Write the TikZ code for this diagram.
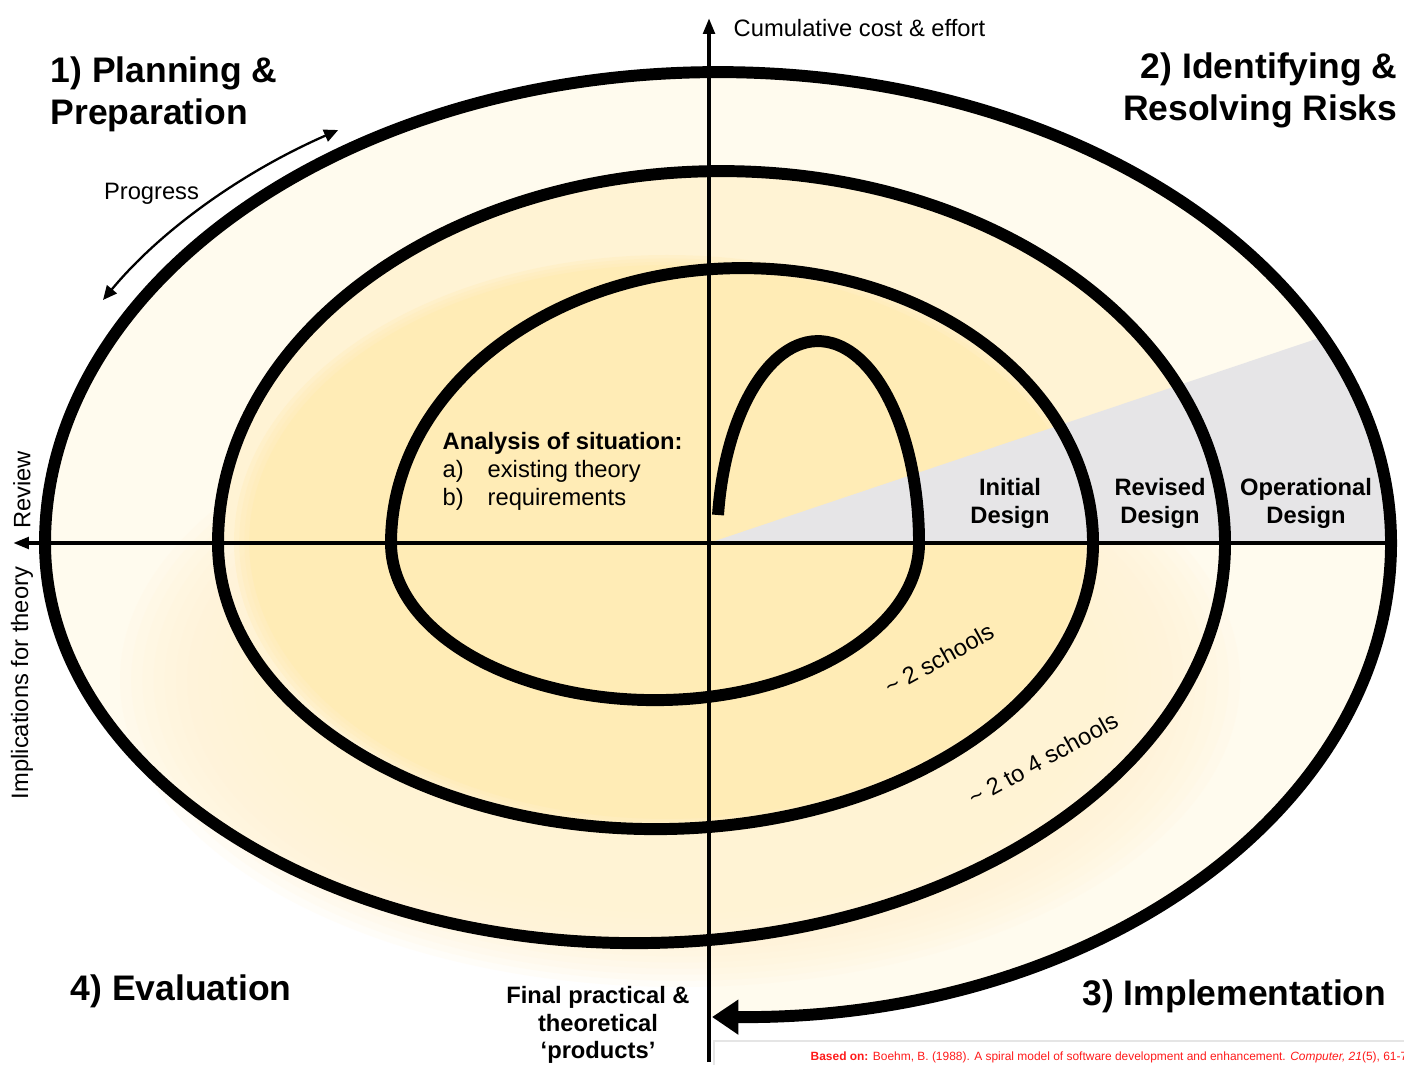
\documentclass[tikz,border=0pt]{standalone}
\usepackage{fontspec}
\setmainfont{Liberation Sans}
\usetikzlibrary{arrows.meta}
\definecolor{pale}{HTML}{FFFBEE}
\definecolor{medium}{HTML}{FFF3D4}
\definecolor{sat}{HTML}{FFECB6}
\definecolor{wedge}{HTML}{E6E5E7}
\definecolor{citered}{HTML}{FF1A1A}
\begin{document}
\begin{tikzpicture}[x=1cm,y=1cm,
  spiral/.style={line width=3.4pt},
  axisline/.style={line width=1.1pt},
  bigtxt/.style={font=\fontsize{10.1}{12}\selectfont\bfseries, inner sep=0pt},
  smalltxt/.style={font=\fontsize{6.75}{8}\selectfont, inner sep=0pt},
  smallbold/.style={font=\fontsize{6.75}{8}\selectfont\bfseries, inner sep=0pt},
]
\useasboundingbox (0,0) rectangle (14.04,10.65);
\fill[white] (0,0) rectangle (14.04,10.65);
% pale outer area of the spiral
\fill[pale] (0.45,5.22) arc[start angle=180,end angle=0,x radius=6.73,y radius=4.71]
  arc[start angle=0,end angle=-90,x radius=6.46,y radius=4.74] -- (7.09,0.48) -- (7.09,1.25)
  arc[start angle=-82.8,end angle=-180,x radius=5.90,y radius=4.00] -- cycle;
% soft glow
\foreach \k in {0,...,15}{
  \fill[medium, fill opacity=0.15] (6.80,3.85) ellipse[x radius={5.6*(1-0.02*\k)}, y radius={3.07*(1-0.02*\k)}];
}
% medium band (upper)
\fill[medium] (2.18,5.22) arc[start angle=180,end angle=0,x radius=5.035,y radius=3.72] -- cycle;
% saturated core
\foreach \k in {0,1,2}{
  \fill[sat, fill opacity=0.35] (6.67,5.23) ellipse[x radius={4.33*(1-0.012*\k)}, y radius={2.87*(1-0.012*\k)}];
}
\fill[sat] (6.67,5.23) ellipse[x radius={4.33*0.965}, y radius={2.87*0.965}];
% grey design wedge
\begin{scope}
  \clip (0.45,5.22) arc[start angle=180,end angle=0,x radius=6.73,y radius=4.71] -- cycle;
  \fill[wedge] (7.09,5.22) -- (14.04,5.22) -- (14.04,7.555) -- cycle;
\end{scope}
% faint citation box
\draw[black!10, line width=0.4pt] (7.14,0) -- (7.14,0.24) -- (14.04,0.24);
% axes
\coordinate (vbot) at (7.09,0.03);
\coordinate (vtop) at (7.09,10.47);
\coordinate (hright) at (13.95,5.22);
\coordinate (hleft) at (0.13,5.22);
\draw[axisline, -{Triangle[length=4.5pt,width=3.2pt]}] (vbot) -- (vtop);
\draw[axisline, -{Triangle[length=4.5pt,width=3.2pt]}] (hright) -- (hleft);
% spiral
\coordinate (sstart) at (7.18,5.50);
\coordinate (send) at (7.12,0.48);
\draw[spiral, -{Triangle[length=7.5pt,width=9.5pt]}] (sstart)
  arc[start angle=172,end angle=0,x radius=1.01,y radius=2.02]
  arc[start angle=0,end angle=-180,x radius=2.64,y radius=1.57]
  arc[start angle=180,end angle=0,x radius=3.51,y radius=2.75]
  arc[start angle=0,end angle=-180,x radius=4.375,y radius=2.86]
  arc[start angle=180,end angle=0,x radius=5.035,y radius=3.72]
  arc[start angle=0,end angle=-180,x radius=5.90,y radius=4.00]
  arc[start angle=180,end angle=0,x radius=6.73,y radius=4.71]
  arc[start angle=0,end angle=-90,x radius=6.46,y radius=4.74]
  -- (send);
% progress arrow
\coordinate (pstart) at (1.03,7.65);
\draw[line width=0.65pt, {Triangle[length=4pt,width=3.6pt]}-{Triangle[length=4pt,width=3.6pt]}] (pstart)
  arc[start angle=150.2,end angle=122.4,x radius=7.085,y radius=4.893];
% texts
\node[bigtxt, anchor=west, align=left] (plan) at (0.50,9.71) {1) Planning \&\\Preparation};
\node[bigtxt, anchor=east, align=right] (risk) at (13.98,9.75) {2) Identifying \&\\Resolving Risks};
\node[bigtxt, anchor=east] (impl) at (13.87,0.69) {3) Implementation};
\node[bigtxt, anchor=west] (eval) at (0.70,0.74) {4) Evaluation};
\node[smalltxt, anchor=west] (cost) at (7.33,10.37) {Cumulative cost \& effort};
\node[smalltxt] (prog) at (1.515,8.71) {Progress};
\node[smalltxt, anchor=west, align=left] (anal) at (4.42,5.94)
  {\textbf{Analysis of situation:}\\\makebox[12.8pt][l]{a)}existing theory\\\makebox[12.8pt][l]{b)}requirements};
\node[smallbold, align=center] (init) at (10.10,5.62) {Initial\\Design};
\node[smallbold, align=center] (rev) at (11.60,5.62) {Revised\\Design};
\node[smallbold, align=center] (oper) at (13.06,5.62) {Operational\\Design};
\node[smalltxt, rotate=29] (two) at (9.39,4.06) {\textasciitilde{} 2 schools};
\node[smalltxt, rotate=29] (twofour) at (10.43,3.06) {\textasciitilde{} 2 to 4 schools};
\node[smalltxt, rotate=90] (review) at (0.22,5.75) {Review};
\node[smalltxt, rotate=90] (implic) at (0.22,3.82) {Implications for theory};
\node[smallbold, align=center, font=\fontsize{6.75}{7.8}\selectfont\bfseries] (final) at (5.98,0.40)
  {Final practical \&\\theoretical\\‘products’};
\node[inner sep=0pt, anchor=west, text=citered, font=\fontsize{3.4}{4}\selectfont] (cite) at (8.10,0.08)
  {\textbf{Based on:} Boehm, B. (1988). A spiral model of software development and enhancement. \textit{Computer, 21}(5), 61-7};
\end{tikzpicture}
\end{document}
